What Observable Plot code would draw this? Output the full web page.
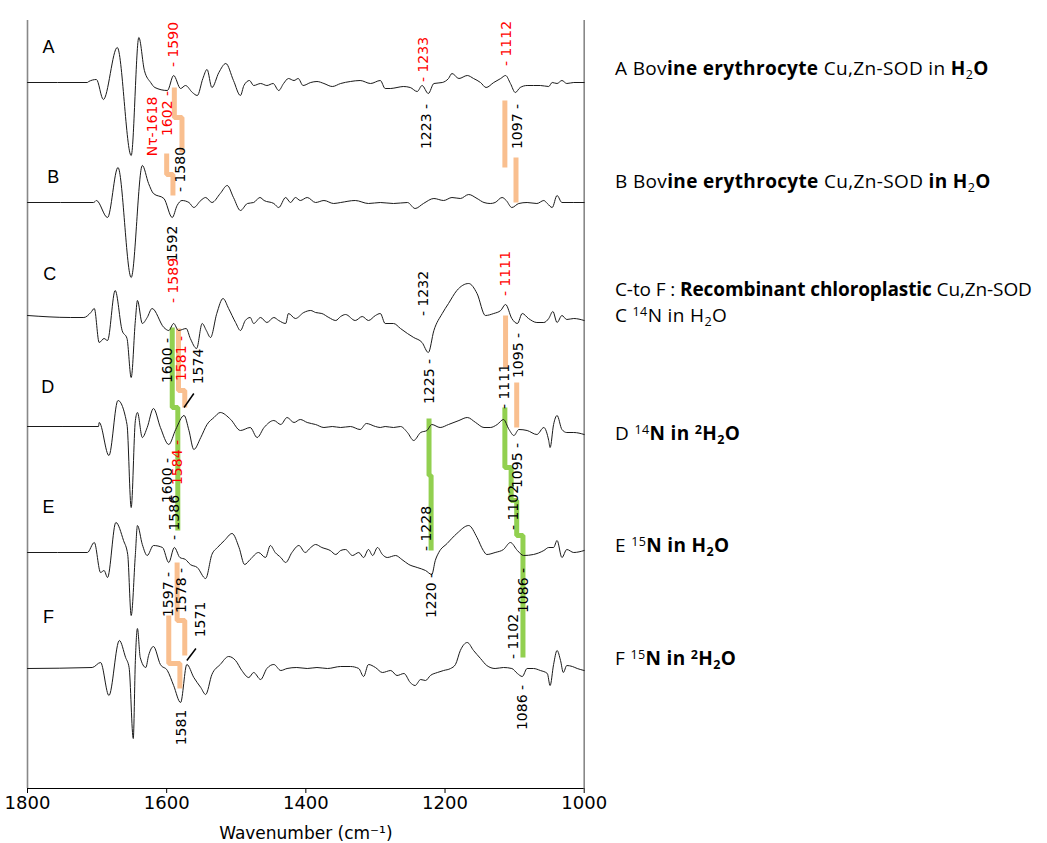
<!DOCTYPE html>
<html><head><meta charset="utf-8">
<script src="https://cdn.jsdelivr.net/npm/d3@7"></script>
<script src="https://cdn.jsdelivr.net/npm/@observablehq/plot@0.6"></script>
<style>
body{margin:0;background:#fff;}
#wrap{position:relative;width:1047px;height:843px;overflow:hidden;background:#fff;}
#chart{position:absolute;left:0;top:0;}
.leg{position:absolute;left:615px;font-family:"Open Sans",Lato,sans-serif;font-size:19px;line-height:22px;white-space:nowrap;color:#000;letter-spacing:0.35px;}
.leg b{font-weight:700;}
.leg.tight{letter-spacing:-0.1px;}
.sb{font-size:0.66em;position:relative;top:0.32em;}
.sp{font-size:0.66em;position:relative;top:-0.45em;}
</style></head>
<body>
<div id="wrap">
<div id="chart"></div>
<div class="leg" style="top:57px">A Bov<b>ine erythrocyte</b> Cu,Zn-SOD in <b>H</b><span class="sb">2</span><b>O</b></div>
<div class="leg" style="top:170px">B Bov<b>ine erythrocyte</b> Cu,Zn-SOD <b>in H</b><span class="sb">2</span><b>O</b></div>
<div class="leg tight" style="top:278px">C-to F : <b>Recombinant chloroplastic</b> Cu,Zn-SOD</div>
<div class="leg" style="top:304px">C <span class="sp">14</span>N in H<span class="sb">2</span>O</div>
<div class="leg" style="top:422px">D <span class="sp">14</span><b>N in <span class="sp">2</span>H<span class="sb">2</span>O</b></div>
<div class="leg" style="top:534px">E <span class="sp">15</span><b>N in H<span class="sb">2</span>O</b></div>
<div class="leg" style="top:647px">F <span class="sp">15</span><b>N in <span class="sp">2</span>H<span class="sb">2</span>O</b></div>
</div>
<script>
// ---- data: wavenumber (cm-1), second-derivative intensity (arbitrary units) ----
const specNames = ["A", "B", "C", "D", "E", "F"];
const baselines = [706, 586, 472, 362, 236, 120];

const specA = [[1800,0],[1714,0],[1712,1],[1701,3],[1691,-17],[1671,35],[1651,-73],[1640,45],[1632,12],[1623,0],[1617,-5],[1599,-8],[1590,7],[1580,-6],[1573,-3],[1563,-10],[1556,-13],[1548,4],[1542,13],[1535,-5],[1525,10],[1515,19],[1504,2],[1494,-13],[1489,-3],[1481,2],[1475,-3],[1465,-1],[1456,-3],[1447,-1],[1439,-8],[1432,-1],[1425,4],[1417,2],[1411,4],[1404,-3],[1393,0],[1384,1],[1374,-1],[1362,-4],[1350,-1],[1336,1],[1322,2],[1307,-1],[1293,2],[1286,-6],[1278,-6],[1269,-5],[1260,-4],[1250,-5],[1240,-9],[1233,-3],[1224,-11],[1216,-1],[1204,0],[1195,4],[1190,9],[1180,4],[1168,7],[1159,4],[1149,0],[1141,-5],[1130,0],[1120,4],[1113,7],[1106,-1],[1099,-10],[1092,-5],[1082,-3],[1073,-3],[1063,-3],[1051,-4],[1046,0],[1039,-1],[1032,2],[1025,-1],[1015,0],[1000,0]];

const specB = [[1800,0],[1705,0],[1701,2],[1685,-15],[1670,35],[1651,-75],[1635,37],[1626,19],[1619,9],[1604,4],[1592,-15],[1585,-3],[1578,2],[1568,0],[1561,-5],[1551,2],[1544,5],[1535,0],[1523,9],[1513,17],[1504,5],[1494,-8],[1484,-1],[1475,0],[1466,5],[1460,2],[1446,-1],[1439,-5],[1429,5],[1422,0],[1415,5],[1408,2],[1398,5],[1386,0],[1374,2],[1360,-1],[1350,0],[1329,2],[1310,-1],[1293,0],[1274,-1],[1254,0],[1243,-6],[1231,-1],[1216,4],[1202,2],[1190,5],[1178,4],[1166,8],[1154,4],[1144,0],[1135,-1],[1128,0],[1118,5],[1112,2],[1104,-5],[1094,-1],[1082,0],[1068,-1],[1058,2],[1053,-1],[1046,-5],[1039,7],[1032,0],[1015,0],[1000,0]];

const specC = [[1800,1],[1738,-1],[1719,-1],[1709,4],[1704,8],[1697,-26],[1690,-22],[1685,-24],[1674,26],[1664,-14],[1657,-22],[1651,-61],[1645,-4],[1642,16],[1635,-7],[1628,-1],[1621,8],[1604,-11],[1597,-14],[1590,-7],[1583,-14],[1572,-12],[1566,-22],[1557,-32],[1549,-7],[1543,-14],[1537,-21],[1528,3],[1519,18],[1511,8],[1501,-6],[1494,-14],[1487,-4],[1480,-1],[1475,-7],[1465,-1],[1456,-6],[1446,-1],[1439,-4],[1429,-7],[1425,3],[1415,-2],[1403,4],[1393,6],[1386,4],[1377,3],[1367,-1],[1357,-4],[1350,0],[1343,2],[1329,-4],[1319,0],[1310,-4],[1300,1],[1293,3],[1286,-7],[1274,-7],[1264,-12],[1254,-17],[1245,-21],[1233,-26],[1224,-36],[1216,-14],[1204,3],[1195,13],[1183,26],[1166,33],[1154,23],[1142,1],[1130,3],[1120,6],[1113,12],[1104,-2],[1096,-7],[1089,3],[1080,-2],[1068,-6],[1058,-6],[1051,-2],[1045,5],[1039,-6],[1032,1],[1025,-3],[1015,-2],[1000,-4]];

const specD = [[1800,0],[1698,0],[1697,4],[1683,-29],[1670,26],[1657,2],[1651,-81],[1645,6],[1642,14],[1635,-11],[1628,-1],[1619,18],[1609,-1],[1597,-18],[1587,-3],[1575,11],[1568,-4],[1561,-23],[1551,-11],[1542,2],[1532,9],[1523,14],[1508,7],[1494,-4],[1480,-1],[1470,-11],[1460,-1],[1446,6],[1436,2],[1427,9],[1417,4],[1408,7],[1398,4],[1386,2],[1374,-1],[1362,0],[1350,-1],[1336,0],[1322,-3],[1313,3],[1300,0],[1293,-1],[1286,0],[1274,-1],[1264,0],[1254,-6],[1245,-14],[1235,-6],[1226,-4],[1219,2],[1207,-1],[1195,2],[1180,6],[1168,9],[1156,4],[1144,-1],[1135,-1],[1125,2],[1116,7],[1108,-3],[1101,-9],[1094,-3],[1082,-4],[1068,-8],[1058,-1],[1051,-14],[1049,-21],[1044,2],[1039,11],[1032,-3],[1025,-6],[1015,-6],[1000,-8]];

const specE = [[1800,0],[1714,0],[1704,10],[1695,-20],[1690,-18],[1685,-25],[1673,30],[1662,12],[1656,-2],[1651,-63],[1645,-2],[1642,27],[1635,8],[1628,-3],[1619,7],[1606,5],[1597,-10],[1589,5],[1581,-5],[1573,-7],[1566,-12],[1556,-15],[1544,-26],[1535,-2],[1527,5],[1517,12],[1506,19],[1496,5],[1488,-12],[1480,-7],[1468,0],[1458,-5],[1451,7],[1444,0],[1436,-5],[1429,-10],[1420,0],[1410,7],[1401,0],[1393,5],[1386,8],[1377,5],[1365,2],[1357,-2],[1350,2],[1343,3],[1333,-3],[1324,0],[1317,-5],[1310,3],[1304,-3],[1297,5],[1290,-2],[1283,-5],[1271,-3],[1262,-7],[1252,-12],[1240,-15],[1228,-18],[1219,-22],[1214,-8],[1209,0],[1197,9],[1183,19],[1166,27],[1154,15],[1145,2],[1140,-2],[1128,0],[1116,3],[1106,10],[1096,2],[1087,-3],[1073,-2],[1058,2],[1051,5],[1044,5],[1039,12],[1032,-5],[1025,3],[1015,0],[1000,2]];

const specF = [[1800,0],[1707,1],[1695,6],[1683,-27],[1668,28],[1659,11],[1654,1],[1648,-70],[1645,8],[1642,40],[1638,11],[1630,1],[1626,13],[1619,22],[1609,4],[1599,-2],[1590,-17],[1580,-34],[1571,4],[1561,-9],[1551,-19],[1544,-26],[1535,-6],[1523,4],[1511,12],[1501,8],[1492,-2],[1482,-9],[1475,-4],[1465,-11],[1456,0],[1446,4],[1436,-2],[1427,0],[1413,1],[1398,0],[1384,1],[1369,0],[1350,2],[1336,2],[1324,0],[1317,-8],[1310,4],[1300,1],[1290,-4],[1278,-2],[1269,-7],[1259,-5],[1250,-14],[1243,-17],[1235,-11],[1228,-12],[1221,-7],[1211,-4],[1202,-2],[1192,0],[1185,4],[1178,18],[1168,26],[1159,18],[1149,10],[1140,3],[1128,0],[1116,1],[1104,0],[1096,-5],[1089,-8],[1082,0],[1073,0],[1063,-2],[1053,-5],[1049,-17],[1044,4],[1039,18],[1034,8],[1030,-4],[1025,3],[1017,2],[1010,0],[1000,-2]];

const specSeries = [specA, specB, specC, specD, specE, specF];

// band-shift connectors: kind o = bovine / H-exchange assignment, g = 15N shift
const connectors = [
  {id: "o1", kind: "o", pts: [[1589,701],[1589,671],[1578,671],[1578,636]]},
  {id: "o2", kind: "o", pts: [[1600,635],[1600,614],[1591,614],[1591,593]]},
  {id: "o3", kind: "o", pts: [[1114,688],[1114,621]]},
  {id: "o4", kind: "o", pts: [[1098,631],[1098,586]]},
  {id: "o5", kind: "o", pts: [[1583,460],[1583,398],[1574,398],[1574,381]]},
  {id: "o6", kind: "o", pts: [[1113,473],[1113,421]]},
  {id: "o7", kind: "o", pts: [[1097,406],[1097,361]]},
  {id: "o8", kind: "o", pts: [[1585,226],[1585,168],[1574,168],[1574,133]]},
  {id: "o9", kind: "o", pts: [[1597,173],[1597,125],[1581,125],[1581,100]]},
  {id: "g1", kind: "g", pts: [[1592,461],[1592,381],[1584,381],[1584,258]]},
  {id: "g2", kind: "g", pts: [[1223,370],[1223,313],[1220,313],[1220,238]]},
  {id: "g3", kind: "g", pts: [[1114,381],[1114,321],[1105,321],[1105,288],[1097,288],[1097,253],[1088,253],[1088,131]]}
];

// peak labels: text, wavenumber, level; r = red (reference) label
const peakLabels = [
  {t:"- 1590", w:1590, v:744, r:1},
  {t:"Nτ-1618", w:1621, v:662, r:1},
  {t:"1602 -", w:1599, v:675, r:1},
  {t:"- 1580", w:1580, v:619, r:0},
  {t:"1592", w:1592, v:545, r:0},
  {t:"- 1589", w:1590, v:508, r:1},
  {t:"- 1233", w:1231, v:729, r:1},
  {t:"- 1112", w:1112, v:745, r:1},
  {t:"1223 -", w:1226, v:662, r:0},
  {t:"1097 -", w:1096, v:662, r:0},
  {t:"- 1111", w:1113, v:515, r:1},
  {t:"- 1232", w:1231, v:495, r:0},
  {t:"1225 -", w:1223, v:407, r:0},
  {t:"1095 -", w:1094, v:433, r:0},
  {t:"- 1111", w:1115, v:402, r:0},
  {t:"1095 -", w:1096, v:323, r:0},
  {t:"- 1102", w:1101, v:281, r:0},
  {t:"- 1228", w:1226, v:260, r:0},
  {t:"1220 -", w:1219, v:193, r:0},
  {t:"1086 -", w:1087, v:198, r:0},
  {t:"- 1102", w:1102, v:152, r:0},
  {t:"1086 -", w:1089, v:81, r:0},
  {t:"1600 -", w:1599, v:428, r:0},
  {t:"1581 -", w:1579, v:430, r:1},
  {t:"1574", w:1554, v:422, r:0},
  {t:"1600 -", w:1599, v:308, r:0},
  {t:"1584 -", w:1585, v:326, r:1},
  {t:"- 1586", w:1589, v:271, r:0},
  {t:"1597 -", w:1597, v:194, r:0},
  {t:"1578 -", w:1578, v:198, r:0},
  {t:"1571", w:1551, v:169, r:0},
  {t:"1581", w:1579, v:61, r:0}
];

const leaders = [
  {w1:1575, v1:381, w2:1561, v2:395},
  {w1:1571, v1:128, w2:1558, v2:140}
];

const specLetters = [
  {t:"A", w:1770, v:741}, {t:"B", w:1763, v:611}, {t:"C", w:1768, v:514},
  {t:"D", w:1771, v:401}, {t:"E", w:1770, v:281}, {t:"F", w:1770, v:171}
];

const xTicks = [1800, 1600, 1400, 1200, 1000];
const xTitle = "Wavenumber (cm⁻¹)";

// ---- build tables ----
const specRows = specNames.flatMap((name, k) =>
  specSeries[k].map(([w, i]) => ({spec: name, w, v: baselines[k] + i})));
const connRows = connectors.flatMap(c => c.pts.map(([w, v]) => ({id: c.id, kind: c.kind, w, v})));
const orange = "#F9BF8F", green = "#92D050";

const chart = Plot.plot({
  width: 1047, height: 843,
  marginLeft: 27, marginRight: 463.3, marginTop: 20, marginBottom: 55,
  x: {domain: [1800, 1000]},
  y: {domain: [0, 768], axis: null},
  style: {background: "#fff", color: "#000"},
  marks: [
    Plot.ruleX([1800, 1000], {y1: 0, y2: 768, stroke: "#888", strokeWidth: 1.6}),
    Plot.ruleY([0], {stroke: "#000", strokeWidth: 1.2}),
    Plot.axisX({ticks: xTicks, tickFormat: d => String(d), tickSize: 5, tickPadding: 3, fontSize: 18, fontFamily: "DejaVu Sans", label: null, stroke: "#000", fill: "#000"}),
    Plot.text([xTitle], {frameAnchor: "bottom", lineAnchor: "middle", dy: 45, fontSize: 17, fontFamily: "DejaVu Sans", fill: "#000"}),
    Plot.line(connRows.filter(d => d.kind === "o"), {x: "w", y: "v", z: "id", stroke: orange, strokeWidth: 5, strokeLinejoin: "miter", strokeLinecap: "butt"}),
    Plot.line(connRows.filter(d => d.kind === "g"), {x: "w", y: "v", z: "id", stroke: green, strokeWidth: 5, strokeLinejoin: "miter", strokeLinecap: "butt"}),
    Plot.line(specRows, {x: "w", y: "v", z: "spec", stroke: "#1a1a1a", strokeWidth: 1, curve: "monotone-x"}),
    Plot.link(leaders, {x1: "w1", y1: "v1", x2: "w2", y2: "v2", stroke: "#000", strokeWidth: 1.5}),
    Plot.text(peakLabels, {x: "w", y: "v", text: "t", rotate: -90, fontSize: 14, fontFamily: "DejaVu Sans", fill: d => d.r ? "#ff0000" : "#000"}),
    Plot.text(specLetters, {x: "w", y: "v", text: "t", fontSize: 18, fontFamily: "Liberation Sans", fill: "#000"})
  ]
});
document.getElementById("chart").appendChild(chart);
</script>
</body></html>
